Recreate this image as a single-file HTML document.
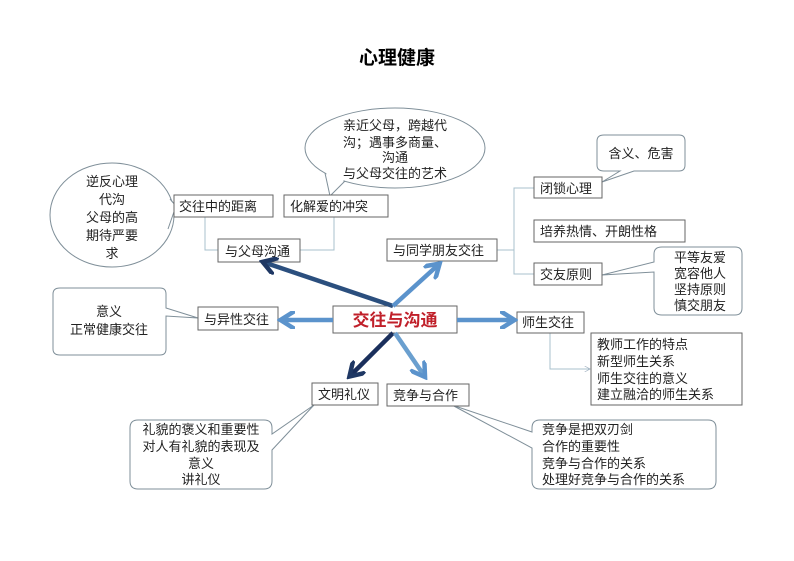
<!DOCTYPE html>
<html><head><meta charset="utf-8"><style>
html,body{margin:0;padding:0;background:#fff;}
svg{display:block;}
text{font-family:"Liberation Sans","Noto Sans CJK SC",sans-serif;font-size:13px;fill:#222;}
</style></head><body>
<svg width="794" height="561" viewBox="0 0 794 561" xmlns="http://www.w3.org/2000/svg">
<defs>
<marker id="ad" viewBox="0 0 10 10" refX="6" refY="5" markerWidth="4" markerHeight="4" orient="auto"><path d="M0,0 L8,5 L0,10" fill="none" stroke="#1f3864" stroke-width="2.5"/></marker>
<marker id="ab" viewBox="0 0 10 10" refX="6" refY="5" markerWidth="4" markerHeight="4" orient="auto"><path d="M0,0 L8,5 L0,10" fill="none" stroke="#5b93cc" stroke-width="2.5"/></marker>
<marker id="as" viewBox="0 0 10 10" refX="9" refY="5" markerWidth="6" markerHeight="6" orient="auto"><path d="M0,0 L9,5 L0,10" fill="none" stroke="#9ab" stroke-width="1"/></marker>
</defs>
<text x="397" y="64" text-anchor="middle" style="font-size:19px;font-weight:bold;fill:#000">心理健康</text>

<!-- thin connectors -->
<g fill="none" stroke="#a8c0cc" stroke-width="1">
<path d="M205,217 V250 H218"/>
<path d="M334,217 V250 H300"/>
<path d="M497,250 H514 V188 H534 M514,250 V274 H534"/>
<path d="M550,333 V369 H590" marker-end="url(#as)"/>
</g>

<!-- ellipse callouts -->
<g stroke="#7f8f99" stroke-width="1">
<ellipse cx="112" cy="215" rx="62" ry="52" fill="#fff"/>
<polygon points="169,199 176,206 168,228" fill="#fff" stroke="none"/>
<polyline points="170,199 176,206 168,229" fill="none"/>
<ellipse cx="395" cy="148" rx="90" ry="40" fill="#fff"/>
<polygon points="326,171 330,196 344,180" fill="#fff" stroke="none"/>
<polyline points="325,173 330,196 345,181" fill="none"/>
</g>

<!-- rounded callouts -->
<g fill="#fff" stroke="#7f8f99" stroke-width="1">
<path d="M60,288 H160 Q166,288 166,294 V308 L198,318 L166,316 V349 Q166,355 160,355 H60 Q53,355 53,349 V294 Q53,288 60,288 Z"/>
<path d="M604,135 H679 Q685,135 685,141 V165 Q685,171 679,171 H634 L602,182 L620,171 H604 Q597,171 597,165 V141 Q597,135 604,135 Z"/>
<path d="M662,247 H735 Q742,247 742,254 V308 Q742,315 735,315 H662 Q654,315 654,308 V272 L602,275 L654,262 V254 Q654,247 662,247 Z"/>
<path d="M138,420 H264 Q272,420 272,428 V434 L314,405 L272,450 V481 Q272,489 264,489 H138 Q130,489 130,481 V428 Q130,420 138,420 Z"/>
<path d="M540,420 H708 Q716,420 716,428 V481 Q716,489 708,489 H540 Q532,489 532,481 V448 L452,405 L532,432 V428 Q532,420 540,420 Z"/>
</g>

<!-- boxes -->
<g fill="#fff" stroke="#666" stroke-width="1">
<rect x="174" y="195" width="99" height="22"/>
<rect x="284" y="195" width="104" height="22"/>
<rect x="218" y="239" width="82" height="23"/>
<rect x="387" y="239" width="110" height="22"/>
<rect x="198" y="307" width="80" height="23"/>
<rect x="333" y="306" width="124" height="27"/>
<rect x="517" y="312" width="67" height="21"/>
<rect x="534" y="177" width="68" height="21"/>
<rect x="534" y="220" width="151" height="22"/>
<rect x="534" y="263" width="68" height="22"/>
<rect x="591" y="333" width="151" height="72"/>
<rect x="312" y="383" width="66" height="22"/>
<rect x="387" y="384" width="82" height="22"/>
</g>

<!-- thick arrows -->
<g fill="none" stroke-width="4.5">
<line x1="393" y1="306" x2="266" y2="263" stroke="#2b4f7e" marker-end="url(#ad)"/>
<line x1="393" y1="306" x2="437" y2="266" stroke="#5b93cc" marker-end="url(#ab)"/>
<line x1="333" y1="320" x2="284" y2="320" stroke="#5b93cc" marker-end="url(#ab)"/>
<line x1="457" y1="320" x2="511" y2="320" stroke="#5b93cc" marker-end="url(#ab)"/>
<line x1="393" y1="333" x2="352" y2="374" stroke="#1a2f5c" marker-end="url(#ad)"/>
<line x1="395" y1="333" x2="423" y2="374" stroke="#6a9fcf" marker-end="url(#ab)"/>
</g>

<!-- labels -->
<text x="395" y="326" text-anchor="middle" style="font-size:17px;font-weight:bold;fill:#c0202a">交往与沟通</text>
<text x="179" y="211">交往中的距离</text>
<text x="290" y="211">化解爱的冲突</text>
<text x="225" y="256">与父母沟通</text>
<text x="393" y="255">与同学朋友交往</text>
<text x="204" y="324">与异性交往</text>
<text x="522" y="327">师生交往</text>
<text x="540" y="193">闭锁心理</text>
<text x="540" y="236">培养热情、开朗性格</text>
<text x="540" y="279">交友原则</text>
<text x="318" y="399">文明礼仪</text>
<text x="393" y="400">竞争与合作</text>

<g text-anchor="middle">
<text x="112" y="186">逆反心理</text>
<text x="112" y="204">代沟</text>
<text x="112" y="222">父母的高</text>
<text x="112" y="240">期待严要</text>
<text x="112" y="258">求</text>
<text x="395" y="130">亲近父母，跨越代</text>
<text x="395" y="147">沟；遇事多商量、</text>
<text x="395" y="162">沟通</text>
<text x="395" y="178">与父母交往的艺术</text>
<text x="109" y="316">意义</text>
<text x="109" y="334">正常健康交往</text>
<text x="641" y="158">含义、危害</text>
<text x="700" y="262">平等友爱</text>
<text x="700" y="278">宽容他人</text>
<text x="700" y="294">坚持原则</text>
<text x="700" y="310">慎交朋友</text>
<text x="201" y="434">礼貌的褒义和重要性</text>
<text x="201" y="451">对人有礼貌的表现及</text>
<text x="201" y="468">意义</text>
<text x="201" y="484">讲礼仪</text>
</g>
<text x="597" y="349">教师工作的特点</text>
<text x="597" y="366">新型师生关系</text>
<text x="597" y="383">师生交往的意义</text>
<text x="597" y="399">建立融洽的师生关系</text>
<text x="542" y="434">竞争是把双刃剑</text>
<text x="542" y="451">合作的重要性</text>
<text x="542" y="468">竞争与合作的关系</text>
<text x="542" y="484">处理好竞争与合作的关系</text>
</svg>
</body></html>
